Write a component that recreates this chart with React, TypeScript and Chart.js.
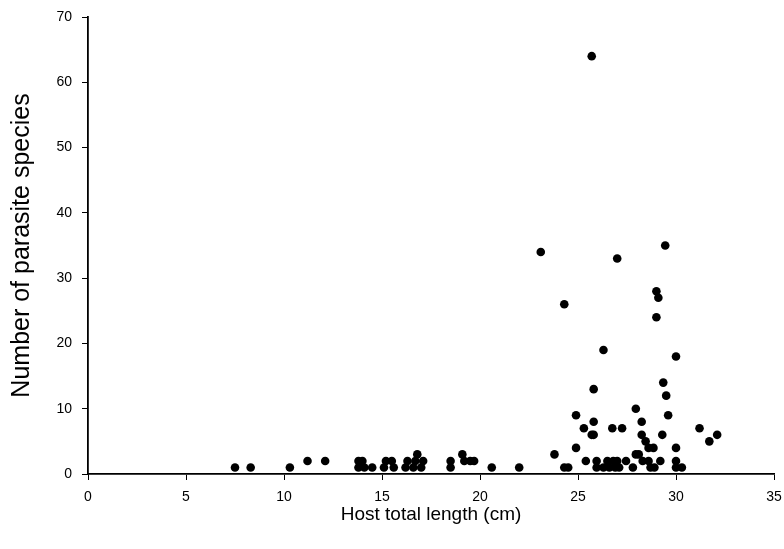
import React, { useEffect, useRef } from "react";
import { Chart, registerables } from "chart.js";

Chart.register(...registerables);

const hostLength: number[] = [
  7.5, 8.3, 10.3, 11.2, 12.1, 13.8, 13.8, 14.0, 14.1, 14.5,
  15.1, 15.2, 15.5, 15.6, 16.2, 16.3, 16.6, 16.7, 16.8, 17.0,
  17.1, 18.5, 18.5, 19.1, 19.2, 19.5, 19.7, 20.6, 22.0, 23.1,
  23.8, 24.3, 24.3, 24.5, 24.9, 24.9, 25.3, 25.4, 25.7, 25.8,
  25.8, 25.7, 25.8, 25.95, 25.95, 26.3, 26.3, 26.5, 26.6, 26.75,
  26.8, 26.9, 27.0, 27.0, 27.1, 27.25, 27.45, 27.8, 27.95, 27.95,
  28.1, 28.25, 28.25, 28.3, 28.45, 28.6, 28.6, 28.7, 28.85, 28.9,
  29.0, 29.0, 29.1, 29.2, 29.3, 29.35, 29.45, 29.5, 29.6, 30.0,
  30.0, 30.0, 30.0, 30.3, 31.2, 31.7, 32.1,
];

const parasiteSpecies: number[] = [
  1, 1, 1, 2, 2, 2, 1, 2, 1, 1,
  1, 2, 2, 1, 1, 2, 1, 2, 3, 1,
  2, 1, 2, 3, 2, 2, 2, 1, 1, 34,
  3, 26, 1, 1, 4, 9, 7, 2, 64, 13,
  8, 6, 6, 2, 1, 19, 1, 2, 1, 7,
  2, 1, 33, 2, 1, 7, 2, 1, 10, 3,
  3, 8, 6, 2, 5, 4, 2, 1, 4, 1,
  28, 24, 27, 2, 6, 14, 35, 12, 9, 18,
  4, 2, 1, 1, 7, 5, 6,
];

const xTicks: number[] = [0, 5, 10, 15, 20, 25, 30, 35];
const yTicks: number[] = [0, 10, 20, 30, 40, 50, 60, 70];

const xTitle = "Host total length (cm)";
const yTitle = "Number of parasite species";

export default function App() {
  const canvasRef = useRef<HTMLCanvasElement | null>(null);

  useEffect(() => {
    const canvas = canvasRef.current;
    if (!canvas) return;
    const points = hostLength.map((x, i) => ({ x, y: parasiteSpecies[i] }));
    const font = "'Liberation Sans', Arial, sans-serif";
    const chart = new Chart(canvas, {
      type: "scatter",
      data: {
        datasets: [
          {
            data: points,
            backgroundColor: "#000",
            borderColor: "#000",
            borderWidth: 0,
            pointRadius: 4.3,
            pointHoverRadius: 4.3,
          },
        ],
      },
      options: {
        animation: false,
        responsive: false,
        devicePixelRatio: 1,
        layout: { padding: { left: 0, right: 10, top: 17, bottom: 0 } },
        plugins: {
          legend: { display: false },
          tooltip: { enabled: false },
        },
        scales: {
          x: {
            type: "linear",
            min: 0,
            max: 35,
            afterBuildTicks: (s: any) => {
              s.ticks = xTicks.map((v) => ({ value: v }));
            },
            afterFit: (s: any) => {
              s.height = 75;
              s.paddingLeft = 0;
              s.paddingRight = 0;
            },
            grid: {
              drawOnChartArea: false,
              drawTicks: true,
              tickLength: 6,
              color: "#000",
              lineWidth: 1,
            },
            border: { display: true, color: "#000", width: 1.8 },
            ticks: {
              color: "#000",
              font: { family: font, size: 14 },
              padding: 9,
              maxRotation: 0,
            },
            title: {
              display: true,
              text: xTitle,
              color: "#000",
              font: { family: font, size: 19 },
              padding: { top: 0, bottom: 23 },
            },
          },
          y: {
            type: "linear",
            min: 0,
            max: 70,
            afterBuildTicks: (s: any) => {
              s.ticks = yTicks.map((v) => ({ value: v }));
            },
            afterFit: (s: any) => {
              s.width = 88;
              s.paddingTop = 0;
              s.paddingBottom = 0;
            },
            grid: {
              drawOnChartArea: false,
              drawTicks: true,
              tickLength: 6,
              color: "#000",
              lineWidth: 1,
            },
            border: { display: true, color: "#000", width: 1.8 },
            ticks: {
              color: "#000",
              font: { family: font, size: 14 },
              padding: 10,
            },
            title: {
              display: true,
              text: yTitle,
              color: "#000",
              font: { family: font, size: 25 },
              padding: { top: 7, bottom: 0 },
            },
          },
        },
      },
    });
    return () => chart.destroy();
  }, []);

  return (
    <div style={{ position: "absolute", left: 0, top: 0, width: 784, height: 549, background: "#fff" }}>
      <canvas ref={canvasRef} width={784} height={549} style={{ width: 784, height: 549 }} />
    </div>
  );
}
